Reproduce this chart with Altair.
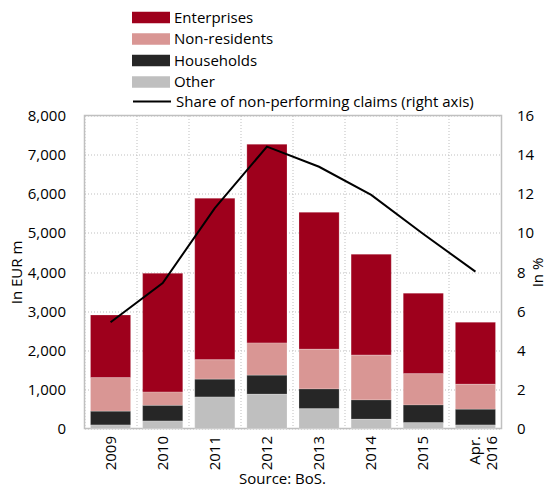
import altair as alt
import pandas as pd

categories = ["2009", "2010", "2011", "2012", "2013", "2014", "2015", "Apr. 2016"]
series_names = ["Enterprises", "Non-residents", "Households", "Other"]
enterprises = [1600, 3035, 4130, 5080, 3500, 2580, 2060, 1585]
non_residents = [860, 340, 495, 825, 1015, 1145, 800, 640]
households = [350, 400, 455, 485, 505, 495, 450, 400]
other = [90, 190, 805, 875, 505, 235, 150, 90]
share = [5.43, 7.44, 11.26, 14.41, 13.38, 11.94, 9.94, 8.02]
line_label = "Share of non-performing claims (right axis)"
colors = ["#9E001C", "#D99694", "#262626", "#BFBFBF"]
stack_rank = {"Other": 0, "Households": 1, "Non-residents": 2, "Enterprises": 3}

rows = []
for name, vals in zip(series_names, [enterprises, non_residents, households, other]):
    for cat, v in zip(categories, vals):
        rows.append({"year": cat, "category": name, "value": v, "ord": stack_rank[name]})
df_bars = pd.DataFrame(rows)
df_line = pd.DataFrame({"year": categories, "share": share, "series": [line_label] * len(categories)})

FONT = "Open Sans"
GRID = "#BFBFBF"

bars = alt.Chart(df_bars).mark_bar(stroke="white", strokeWidth=0.6, strokeOpacity=0.35).encode(
    x=alt.X("year:N", sort=categories,
            scale=alt.Scale(paddingInner=0.23, paddingOuter=0.115),
            axis=alt.Axis(title="Source: BoS.", labelAngle=-90, ticks=False, domain=False, grid=False,
                          labelPadding=7, titlePadding=2, titleX=197.5,
                          labelExpr="datum.label == 'Apr. 2016' ? ['Apr.', '2016'] : datum.label")),
    y=alt.Y("value:Q", stack="zero", scale=alt.Scale(domain=[0, 8000], nice=False),
            axis=alt.Axis(values=list(range(0, 8001, 1000)), format=",.0f", title="In EUR m",
                          grid=True, gridDash=[1, 2], gridColor=GRID, ticks=False, domain=False,
                          labelPadding=19, titlePadding=3)),
    color=alt.Color("category:N", scale=alt.Scale(domain=series_names, range=colors),
                    legend=alt.Legend(orient="none", legendX=57, legendY=-107.5, title=None,
                                      symbolType="M-2,-0.6H2V0.6H-2Z", symbolSize=361,
                                      symbolStrokeWidth=0, labelFontSize=15, labelFont=FONT,
                                      labelOffset=13.5, rowPadding=3.5, padding=0, labelLimit=400)),
    order=alt.Order("ord:Q", sort="ascending"),
)

line = alt.Chart(df_line).mark_line(strokeWidth=2).encode(
    x=alt.X("year:N", sort=categories,
            axis=alt.Axis(orient="top", grid=True, bandPosition=-0.149, labels=False, ticks=False,
                          domain=False, title=None, gridDash=[1, 2], gridColor=GRID)),
    y=alt.Y("share:Q", scale=alt.Scale(domain=[0, 16], nice=False),
            axis=alt.Axis(orient="right", values=list(range(0, 17, 2)), title="In %", grid=False,
                          ticks=False, domain=False, labelPadding=15, titlePadding=12, titleAngle=270)),
    stroke=alt.Stroke("series:N", scale=alt.Scale(domain=[line_label], range=["black"]),
                      legend=alt.Legend(orient="none", legendX=47.5, legendY=-34, title=None,
                                        symbolType="stroke", symbolSize=1444, symbolStrokeWidth=2,
                                        labelFontSize=15, labelFont=FONT, labelOffset=4, padding=0,
                                        labelLimit=400)),
)

chart = alt.layer(bars, line).resolve_scale(y="independent").resolve_axis(x="independent").properties(
    width=417, height=313,
    autosize=alt.AutoSizeParams(type="none"),
    padding={"left": 76.5, "top": 107.5, "right": 47.5, "bottom": 59.5},
).configure_view(stroke="#C0C0C0", strokeWidth=1.5).configure_axis(
    labelFont=FONT, titleFont=FONT, labelFontSize=15, titleFontSize=15,
    labelColor="black", titleColor="black", titleFontWeight="normal",
).configure_legend(labelColor="black")

chart.save("out.html", embed_options={"renderer": "svg", "actions": False})
